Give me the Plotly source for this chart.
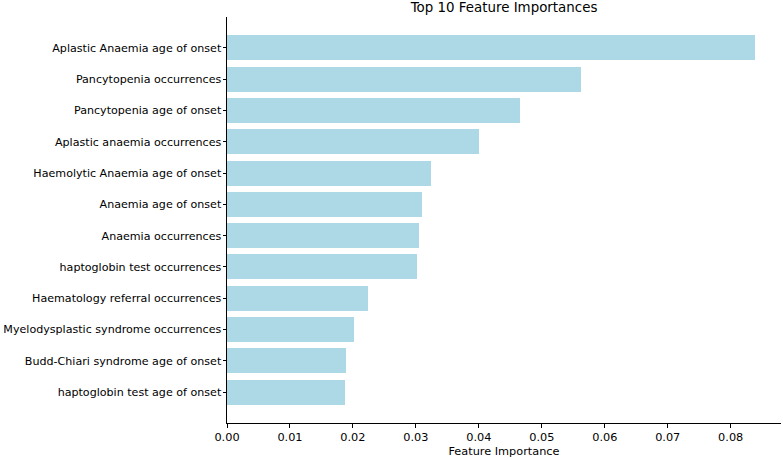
import plotly.graph_objects as go

features = [
    "Aplastic Anaemia age of onset",
    "Pancytopenia occurrences",
    "Pancytopenia age of onset",
    "Aplastic anaemia occurrences",
    "Haemolytic Anaemia age of onset",
    "Anaemia age of onset",
    "Anaemia occurrences",
    "haptoglobin test occurrences",
    "Haematology referral occurrences",
    "Myelodysplastic syndrome occurrences",
    "Budd-Chiari syndrome age of onset",
    "haptoglobin test age of onset",
]
importances = [0.0838, 0.0562, 0.0466, 0.0401, 0.0324, 0.0310,
               0.0305, 0.0301, 0.0224, 0.0202, 0.0189, 0.0188]
x_ticks = [0.00, 0.01, 0.02, 0.03, 0.04, 0.05, 0.06, 0.07, 0.08]

fig = go.Figure(go.Bar(
    x=importances, y=features, orientation="h",
    marker=dict(color="#ADD8E6", line=dict(width=0)),
    width=0.8,
))

n = len(features)
span = (n - 1) + 0.8
pad = 0.05 * span
fig.update_layout(
    template="none",
    width=783, height=460,
    margin=dict(l=227, r=2, t=17, b=37, autoexpand=False),
    plot_bgcolor="white", paper_bgcolor="white",
    font=dict(family="DejaVu Sans", size=11.1, color="black"),
    title=dict(text="Top 10 Feature Importances", x=0.5, xref="paper", xanchor="center",
               y=1 - 7 / 460, yref="container", yanchor="middle",
               font=dict(size=13.4, color="black")),
    showlegend=False,
    bargap=0,
)
fig.update_xaxes(
    automargin=False,
    range=[0, max(importances) * 1.05],
    tickvals=x_ticks, ticktext=[f"{v:.2f}" for v in x_ticks],
    tickfont=dict(size=11.3),
    showline=True, linecolor="black", linewidth=1,
    ticks="outside", ticklen=3.5, tickcolor="black", tickwidth=1,
    showgrid=False, zeroline=False,
    title=dict(text="Feature Importance", standoff=4, font=dict(size=11.3)),
)
fig.update_yaxes(
    automargin=False,
    type="category", categoryorder="array", categoryarray=features,
    range=[n - 1 + 0.4 + pad, -0.4 - pad],
    tickfont=dict(size=11.1),
    ticklabelstandoff=-1,
    showline=True, linecolor="black", linewidth=1,
    ticks="outside", ticklen=3.5, tickcolor="black", tickwidth=1,
    showgrid=False, zeroline=False,
)

fig.write_html("out.html", config={"displayModeBar": False},
               post_script="document.body.style.margin='0';document.body.style.overflow='hidden';")
